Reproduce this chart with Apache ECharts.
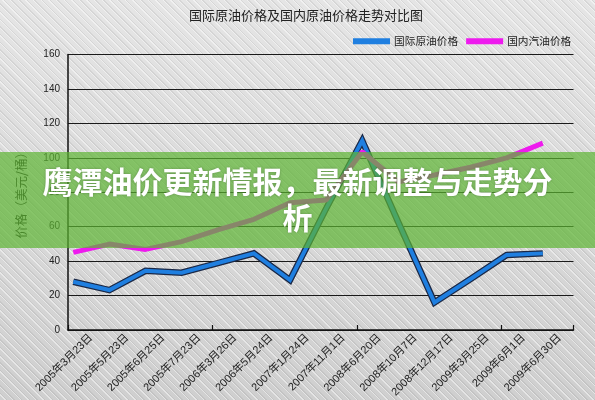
<!DOCTYPE html>
<html>
<head>
<meta charset="utf-8">
<script src="https://cdn.jsdelivr.net/npm/echarts@6/dist/echarts.min.js"></script>
<style>
  html, body { margin: 0; padding: 0; }
  #chart {
    width: 595px; height: 400px;
    background:
      repeating-linear-gradient(45deg,
        rgba(255,255,255,0) 0px, rgba(255,255,255,0) 3.4px,
        rgba(255,255,255,0.45) 3.4px, rgba(255,255,255,0.45) 4.4px,
        rgba(110,110,110,0.12) 4.4px, rgba(110,110,110,0.12) 5.4px),
      linear-gradient(#e5e5e5, #cfcfcf);
  }
</style>
</head>
<body>
<div id="chart"></div>
<script>
// ---- data ----
const chartTitle = '国际原油价格及国内原油价格走势对比图';
const bannerText = '鹰潭油价更新情报，最新调整与走势分析';
const yAxisName = '价格（美元/桶）';
const categories = ['2005年3月23日', '2005年5月23日', '2005年6月25日', '2005年7月23日', '2006年3月26日', '2006年5月24日', '2007年1月24日', '2007年11月1日', '2008年6月20日', '2008年10月7日', '2008年12月17日', '2009年3月25日', '2009年6月1日', '2009年6月30日'];
const crudeOilName = '国际原油价格';
const crudeOil = [28, 23.2, 34.4, 33.3, 38.9, 44.5, 29, 70.5, 110, 62.5, 16, 29.6, 43.6, 44.5];
const gasolineName = '国内汽油价格';
const gasoline = [45.1, 49.9, 46.8, 51.3, 58.1, 64.3, 73.9, 75.5, 103.5, 86, 90, 94.5, 100, 108.5];
const yMin = 0, yMax = 160, yStep = 20;

const FONT = '"Liberation Sans", Arial, "Noto Sans CJK SC", sans-serif';
const chart = echarts.init(document.getElementById('chart'), null, { renderer: 'canvas' });

const option = {
  animation: false,
  backgroundColor: 'transparent',
  title: {
    text: chartTitle, left: 306, top: 9, textAlign: 'center', padding: 0,
    textStyle: { fontSize: 13, fontWeight: 'normal', color: '#222', fontFamily: '"Noto Sans CJK SC", sans-serif' }
  },
  legend: {
    data: [crudeOilName, gasolineName], left: 353, top: 36, padding: 0,
    itemWidth: 37, itemHeight: 6, itemGap: 8, icon: 'rect',
    textStyle: { fontSize: 10.7, color: '#222', fontFamily: '"Noto Sans CJK SC", sans-serif', padding: [0, 0, 0, -1] }
  },
  grid: [
    { left: 68, right: 21.5, top: 54.5, bottom: 70 },
    { left: 91, right: 35.4, top: 54.5, bottom: 70 },
    { left: 73.3, right: 52.2, top: 54.5, bottom: 70 }
  ],
  xAxis: [
    {
      gridIndex: 0, type: 'category', data: categories, boundaryGap: true,
      axisLine: { show: true, lineStyle: { color: '#111', width: 1.5 } },
      axisTick: { show: true, inside: true, length: 5, lineStyle: { color: '#111', width: 1.2 } },
      axisLabel: { show: false }, splitLine: { show: false }
    },
    {
      gridIndex: 1, type: 'category', data: categories, boundaryGap: false,
      axisLine: { show: false }, axisTick: { show: false }, splitLine: { show: false },
      axisLabel: { rotate: 45, margin: 11, fontSize: 11, color: '#222', interval: 0, fontFamily: FONT }
    },
    { gridIndex: 2, type: 'category', data: categories, boundaryGap: false, show: false }
  ],
  yAxis: [
    {
      gridIndex: 0, type: 'value', min: yMin, max: yMax, interval: yStep,
      name: yAxisName, nameLocation: 'middle', nameGap: 40,
      nameTextStyle: { fontSize: 12.5, color: '#1a1a1a', fontFamily: '"Noto Sans CJK SC", sans-serif' },
      axisLine: { show: true, lineStyle: { color: '#111', width: 1.5 } },
      axisTick: { show: false },
      axisLabel: { fontSize: 10, color: '#222', margin: 8, padding: [8, 0, 0, 0], fontFamily: FONT },
      splitLine: { show: true, lineStyle: { color: '#1a1a1a', width: 1 } }
    },
    { gridIndex: 1, type: 'value', min: yMin, max: yMax, show: false },
    { gridIndex: 2, type: 'value', min: yMin, max: yMax, show: false }
  ],
  series: [
    {
      name: crudeOilName + '边框', type: 'line', xAxisIndex: 2, yAxisIndex: 2, data: crudeOil,
      symbol: 'none', z: 2, silent: true,
      lineStyle: { color: '#1a2846', width: 6.5, join: 'miter', miterLimit: 10 }
    },
    {
      name: crudeOilName, type: 'line', xAxisIndex: 2, yAxisIndex: 2, data: crudeOil,
      symbol: 'none', z: 3,
      itemStyle: { color: '#1f7fe0' },
      lineStyle: { color: '#1f7fe0', width: 4, join: 'miter', miterLimit: 10 }
    },
    {
      name: gasolineName, type: 'line', xAxisIndex: 2, yAxisIndex: 2, data: gasoline,
      symbol: 'none', z: 4,
      itemStyle: { color: '#ee1aee' },
      lineStyle: { color: '#ee1aee', width: 5 }
    }
  ],
  graphic: [
    {
      type: 'rect', silent: true, z: 100,
      shape: { x: 0, y: 152, width: 595, height: 96 },
      style: { fill: 'rgba(93,181,50,0.7)' }
    },
    {
      type: 'text', silent: true, z: 101, x: 297.5, y: 200,
      style: {
        text: bannerText, fill: '#ffffff',
        font: 'bold 30px "Noto Sans CJK SC", sans-serif',
        align: 'center', verticalAlign: 'middle',
        width: 520, overflow: 'break', lineHeight: 36,
        textShadowColor: 'rgba(0,0,0,0.25)', textShadowBlur: 3
      }
    }
  ]
};
chart.setOption(option);
</script>
</body>
</html>
